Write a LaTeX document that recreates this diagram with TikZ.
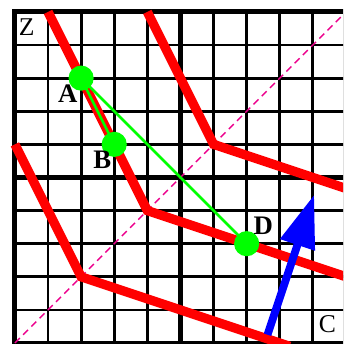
\documentclass[tikz,border=0pt]{standalone}
\usepackage{fontspec}
\setmainfont{Liberation Serif}
\usepackage{tikz}
\usetikzlibrary{arrows.meta}
\tikzset{
    thingrid/.style={black, line width=2.4pt},
    thickgrid/.style={black, line width=4.3pt},
    indiff/.style={red, line width=8pt, line join=miter},
    dot/.style={circle, fill=green, inner sep=0pt, minimum size=0.76cm},
    ptlabel/.style={font=\fontsize{23}{27}\selectfont\bfseries, inner sep=0pt},
    axislabel/.style={font=\fontsize{22}{26}\selectfont, inner sep=0pt}
}

\begin{document}
\begin{tikzpicture}

    % Frame of the picture (the grid runs out past the right edge)
    \useasboundingbox (-0.45,-0.03) rectangle (9.91,10.36);
    \clip (-0.45,-0.03) rectangle (9.91,10.36);

    % Thin grid lines
    \foreach \i in {1,2,3,4,6,7,8,9}{
        \draw[thingrid] (\i,0) -- (\i,10);
        \draw[thingrid] (0,\i) -- (10,\i);
    }

    % Thick border and middle lines
    \draw[thickgrid] (0,0) rectangle (10,10);
    \draw[thickgrid] (5,0) -- (5,10);
    \draw[thickgrid] (0,5) -- (10,5);

    % Dashed diagonal through the kinks
    \draw[magenta, line width=1.2pt, dash pattern=on 6pt off 4pt] (0,0) -- (10,10);

    % Three kinked curves
    \draw[indiff] (0,6) -- (2,2) -- (8.3,-0.1);
    \draw[indiff] (1,10) -- (4,4) -- (10,2);
    \draw[indiff] (4,10) -- (6,6) -- (10,14/3);

    % Points on the middle curve
    \coordinate (A) at (2,8);
    \coordinate (B) at (3,6);
    \coordinate (D) at (7,3);

    % Green segments from A
    \draw[green, line width=2.2pt] (B) -- (A) -- (D);
    \foreach \p in {A,B,D}{
        \node[dot] (pt\p) at (\p) {};
    }

    % Blue arrow
    \coordinate (tail) at (7.63,0.25);
    \coordinate (tip) at (9.04,4.48);
    \draw[blue, line width=6.7pt, -{Triangle[length=1.6cm,width=1.05cm]}] (tail) -- (tip);

    % Labels
    \node[ptlabel] (labA) at ([shift={(-0.4,-0.47)}]ptA) {A};
    \node[ptlabel] (labB) at ([shift={(-0.36,-0.48)}]ptB) {B};
    \node[ptlabel] (labD) at ([shift={(0.5,0.53)}]ptD) {D};
    \node[axislabel] (labZ) at (0.36,9.55) {Z};
    \node[axislabel] (labC) at (9.44,0.56) {C};

\end{tikzpicture}
\end{document}
